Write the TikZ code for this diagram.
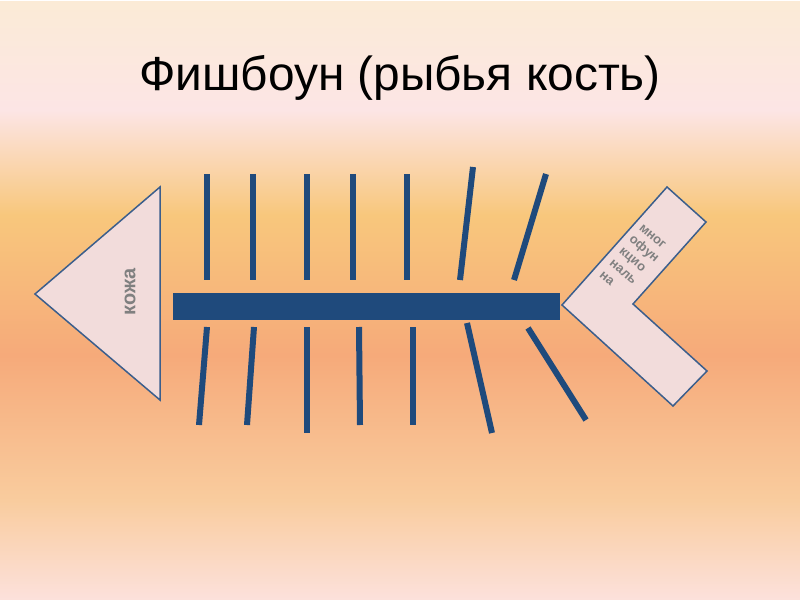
\documentclass[tikz,border=0pt]{standalone}
\usepackage{fontspec}
\setmainfont{Liberation Sans}
\definecolor{bgA}{HTML}{FBEBD6}
\definecolor{bgB}{HTML}{FCE5E5}
\definecolor{bgC}{HTML}{F8C77C}
\definecolor{bgD}{HTML}{F6AA7A}
\definecolor{bgE}{HTML}{F9CC9E}
\definecolor{bgF}{HTML}{FCE1DC}
\definecolor{bonecol}{HTML}{1F4A7C}
\definecolor{shapefill}{HTML}{F2DCDB}
\definecolor{shapeline}{HTML}{3B5E8C}
\definecolor{labelgray}{HTML}{808080}
\pgfdeclareverticalshading{bgshade}{800bp}{%
  color(0bp)=(bgF); color(100bp)=(bgE); color(245bp)=(bgD);
  color(385bp)=(bgC); color(490bp)=(bgB); color(600bp)=(bgA)}
\tikzset{
  bone/.style={draw=bonecol, line width=6bp},
  bodyshape/.style={fill=shapefill, draw=shapeline, line width=1.5bp, line join=miter},
  lbl/.style={text=labelgray, font=\bfseries, inner sep=0pt}
}
\begin{document}
\begin{tikzpicture}[x=1bp,y=-1bp]
\useasboundingbox (0,0) rectangle (800,600);
\node[inner sep=0pt, anchor=north west] (bg) at (0,0) {\pgfuseshading{bgshade}};
% title
\node[anchor=base, inner sep=0pt, font=\fontsize{48}{56}\selectfont] (title) at (400,91) {Фишбоун (рыбья кость)};
% head
\draw[bodyshape] (35,294) coordinate (h1) -- (160,187) coordinate (h2) -- (160,400) coordinate (h3) -- cycle;
\node[lbl, rotate=90, font=\fontsize{20}{24}\selectfont\bfseries] (skin) at (130,292) {кожа};
% tail
\draw[bodyshape] (562,305) -- (667,187) -- (706,222) -- (633,304) -- (707,371) -- (673,406) -- cycle;
\node[lbl, rotate=-40, align=left, font=\fontsize{13}{15.5}\selectfont\bfseries] (tailtext) at (634,261) {мног\\офун\\кцио\\наль\\на};
% spine
\fill[bonecol] (173,293) rectangle (560,320);
% upper bones
\draw[bone] (207,174) -- (207,280);
\draw[bone] (253,174) -- (253,280);
\draw[bone] (307,174) -- (307,280);
\draw[bone] (353,174) -- (353,280);
\draw[bone] (407,174) -- (407,280);
\draw[bone] (473,167) -- (460,280);
\draw[bone] (546,174) -- (514,280);
% lower bones
\draw[bone] (207,327) -- (199,425);
\draw[bone] (254,327) -- (247,425);
\draw[bone] (307,327) -- (307,433);
\draw[bone] (359,327) -- (360,425);
\draw[bone] (413,327) -- (413,425);
\draw[bone] (467,323) -- (492,433);
\draw[bone] (528,328) -- (586,420);
\end{tikzpicture}
\end{document}
